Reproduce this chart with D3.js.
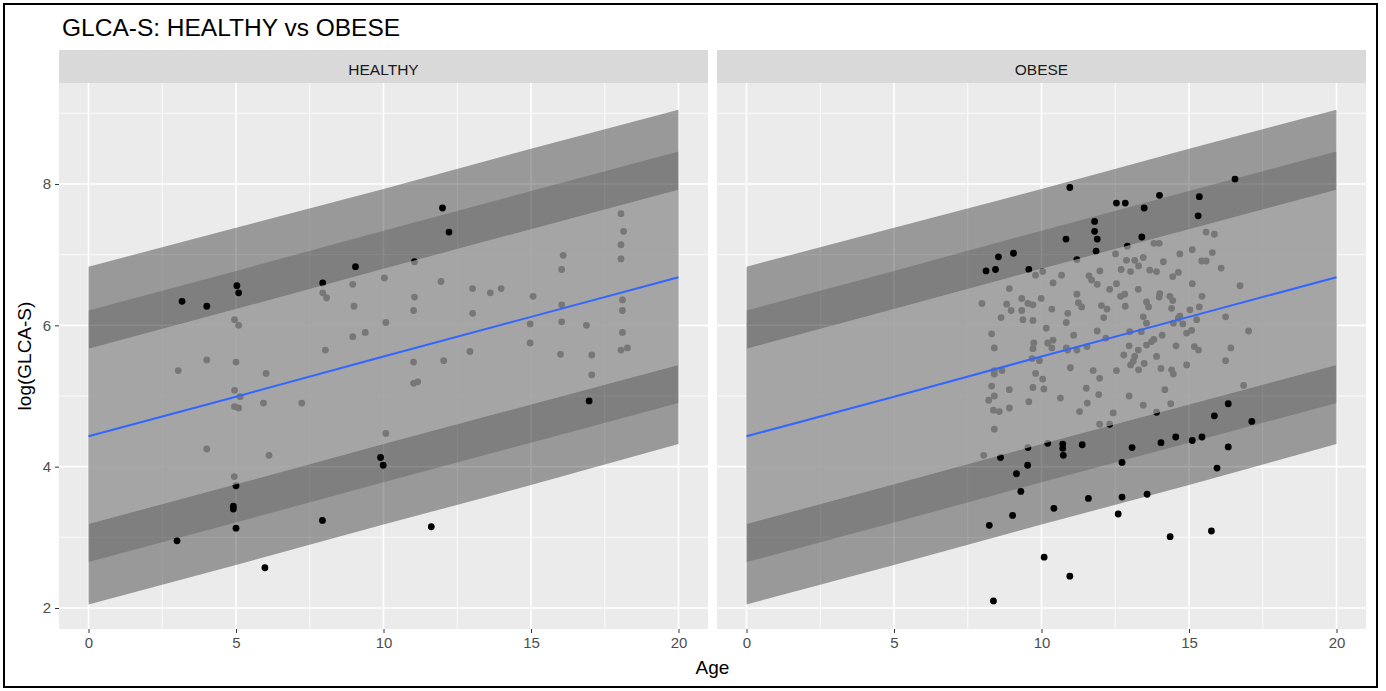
<!DOCTYPE html>
<html>
<head>
<meta charset="utf-8">
<script src="https://cdn.jsdelivr.net/npm/d3@7"></script>
<style>
  html, body { margin: 0; padding: 0; background: #ffffff; }
  svg { display: block; font-family: "Liberation Sans", Arial, sans-serif; }
</style>
</head>
<body>
<svg id="chart" width="1386" height="691"></svg>
<script>
// ---- data ----------------------------------------------------------------
const panelNames = ["HEALTHY", "OBESE"];
const xTicks = [0, 5, 10, 15, 20];
const xMinor = [2.5, 7.5, 12.5, 17.5];
const yTicks = [2, 4, 6, 8];
const yMinor = [3, 5, 7, 9];

// fitted line and quantile bands, evaluated along age
const bandAge  = [0, 5, 10, 15, 20];
const bandFit  = [4.43, 4.99, 5.56, 6.12, 6.68];
const outerLo  = [2.05, 2.61, 3.18, 3.74, 4.32];
const outerHi  = [6.83, 7.38, 7.93, 8.50, 9.05];
const lowBandLo = [2.65, 3.21, 3.78, 4.34, 4.90];
const lowBandHi = [3.19, 3.75, 4.32, 4.88, 5.44];
const upBandLo  = [5.67, 6.23, 6.80, 7.36, 7.92];
const upBandHi  = [6.21, 6.77, 7.34, 7.90, 8.46];

const healthyAge = [
  3.17, 4.01, 5.03, 5.09, 7.94, 9.05, 11.05, 12.00, 12.22, 16.97,
  5.00, 4.91, 4.91, 5.00, 3.00, 5.98, 7.93, 9.90, 9.99, 11.62,
  4.95, 5.09, 4.01, 3.04, 5.00, 6.02, 4.95, 5.14, 4.95, 5.09,
  5.93, 7.23, 7.94, 8.07, 8.03, 8.96, 9.00, 8.96, 9.38, 10.03,
  10.08, 11.05, 11.02, 11.02, 11.02, 11.16, 11.95, 12.04, 10.08, 4.01,
  6.12, 4.94, 13.02, 13.62, 13.99, 13.02, 12.93, 15.07, 14.97, 14.97,
  16.09, 16.04, 16.04, 16.04, 16.00, 16.88, 17.06, 17.06, 18.05, 18.14,
  18.05, 18.05, 18.10, 18.10, 18.10, 18.05, 18.27
];
const healthyLog = [
  6.34, 6.27, 6.56, 6.46, 6.60, 6.83, 6.90, 7.66, 7.32, 4.93,
  3.73, 3.44, 3.40, 3.13, 2.95, 2.57, 3.24, 4.13, 4.02, 3.15,
  6.08, 6.00, 5.51, 5.36, 5.48, 5.32, 5.08, 4.99, 4.85, 4.83,
  4.90, 4.90, 6.46, 6.39, 5.65, 6.58, 6.27, 5.84, 5.90, 6.67,
  6.04, 6.40, 6.21, 5.48, 5.18, 5.20, 6.62, 5.50, 4.47, 4.25,
  4.16, 3.86, 6.52, 6.46, 6.52, 6.17, 5.63, 6.41, 6.02, 5.75,
  6.99, 6.79, 6.29, 6.05, 5.59, 6.00, 5.58, 5.30, 7.58, 7.33,
  7.14, 6.94, 6.36, 6.21, 5.90, 5.65, 5.68
];

const obeseAge = [
  8.12, 8.44, 8.54, 9.05, 9.57, 10.96, 12.54, 12.84, 14.00, 13.48,
  15.35, 15.31, 16.56, 11.80, 11.80, 11.89, 10.83, 11.85, 11.20, 13.40,
  12.91,
  9.54, 10.21, 16.33, 15.86, 17.13, 14.55, 15.11, 15.44, 16.33, 14.05,
  13.07, 11.38, 10.72, 10.72, 10.74,
  8.23, 9.02, 9.30, 9.15, 9.53, 8.61, 11.59, 10.42, 10.09, 10.96,
  8.37, 12.60, 12.73, 12.73, 13.58, 14.36, 15.76, 15.95, 8.04,
  9.80, 10.04, 8.91, 7.98, 8.82, 8.97, 9.33, 9.54, 9.71, 9.99,
  9.33, 8.63, 9.37, 9.71, 10.16, 8.31, 8.40, 9.74, 9.71, 9.68,
  9.93, 10.21, 8.40, 8.66, 8.40, 9.80, 10.04, 8.31, 9.71, 10.08,
  8.91, 8.40, 8.21, 9.57, 8.37, 8.57, 8.91, 8.40,
  10.68, 10.39, 12.51, 12.88, 13.16, 13.45, 13.81, 13.99, 14.69, 15.11,
  15.58, 15.86, 15.43, 15.58, 15.79, 16.09, 16.73, 11.98, 11.61, 11.70,
  11.89, 12.70, 13.02, 13.29, 13.67, 13.90, 14.13, 14.45, 14.64, 15.11,
  12.54, 12.31, 10.35, 11.20, 11.25, 11.36, 10.89, 10.84, 12.03, 12.22,
  12.11, 12.68, 12.82, 12.84, 13.28, 13.56, 13.63, 14.01, 13.99, 14.35,
  14.45, 14.41, 14.69, 15.03, 15.35, 15.44, 16.24, 17.02, 13.45, 13.56,
  12.99, 13.38, 14.47, 14.64, 14.79, 15.09, 14.92, 15.26, 13.73, 13.81,
  13.56, 14.09, 14.56, 15.18, 15.32, 16.42, 16.24, 14.92, 14.41, 14.47,
  14.05, 13.90, 13.16, 13.28, 13.11, 13.02, 12.79, 13.48, 13.29, 12.54,
  12.97, 12.18, 11.89, 11.09, 10.35, 10.39, 10.84, 10.89, 11.20, 11.54,
  11.75, 11.97, 10.98, 11.52, 11.94, 10.64, 11.29, 11.55, 11.97, 12.31,
  12.43, 12.97, 13.45, 13.90, 14.18, 14.38, 16.85
];
const obeseLog = [
  6.77, 6.79, 6.97, 7.02, 6.79, 7.95, 7.73, 7.73, 7.84, 7.66,
  7.82, 7.55, 8.07, 7.47, 7.33, 7.22, 7.22, 7.05, 6.93, 7.25,
  7.12,
  4.27, 4.33, 4.89, 4.72, 4.64, 4.42, 4.37, 4.42, 4.28, 4.34,
  4.27, 4.31, 4.32, 4.26, 4.16,
  3.17, 3.31, 3.65, 3.90, 4.02, 4.13, 3.55, 3.41, 2.72, 2.45,
  2.10, 3.33, 3.57, 4.06, 3.61, 3.01, 3.09, 3.98, 4.16,
  6.71, 6.76, 6.52, 6.31, 6.30, 6.21, 6.38, 6.31, 6.29, 6.38,
  6.21, 6.11, 6.08, 6.07, 5.96, 5.88, 5.68, 5.75, 5.67, 5.53,
  5.50, 5.75, 5.36, 5.36, 5.31, 5.32, 5.24, 5.14, 5.12, 5.10,
  5.09, 5.00, 4.94, 4.92, 4.80, 4.78, 4.83, 4.53,
  6.71, 6.60, 7.01, 6.92, 6.92, 6.96, 7.16, 7.16, 7.01, 7.07,
  7.32, 7.29, 6.91, 6.91, 7.03, 6.81, 6.56, 6.77, 6.70, 6.64,
  6.58, 6.79, 6.76, 6.84, 6.78, 6.76, 6.90, 6.69, 6.75, 6.59,
  6.59, 6.51, 6.23, 6.44, 6.32, 6.26, 6.17, 6.04, 6.28, 6.23,
  6.11, 6.41, 6.44, 6.27, 6.51, 6.33, 6.26, 6.45, 6.40, 6.41,
  6.35, 6.24, 6.13, 6.22, 6.26, 6.41, 6.12, 5.92, 6.12, 6.03,
  5.91, 5.91, 6.03, 6.10, 6.02, 5.93, 5.89, 6.08, 5.77, 5.80,
  5.72, 5.86, 5.71, 5.70, 5.65, 5.68, 5.50, 5.44, 5.37, 5.31,
  5.39, 5.56, 5.56, 5.65, 5.49, 5.44, 5.58, 5.46, 5.37, 5.36,
  5.71, 5.82, 5.92, 5.86, 5.68, 5.79, 5.68, 5.65, 5.65, 5.70,
  5.36, 5.25, 5.40, 5.11, 5.02, 4.97, 4.78, 4.90, 4.60, 4.60,
  4.76, 5.00, 4.87, 4.77, 5.09, 4.89, 5.15
];

// ---- layout --------------------------------------------------------------
const svg = d3.select("#chart");
const panelTop = 83, panelBottom = 629, stripTop = 50;
const panelX = [[59, 708], [717, 1366]];
const pointSets = [
  { age: healthyAge, val: healthyLog },
  { age: obeseAge, val: obeseLog }
];

const y = d3.scaleLinear().domain([1.703, 9.429]).range([panelBottom, panelTop]);

svg.append("rect").attr("x", 0).attr("y", 0).attr("width", 1386).attr("height", 691).attr("fill", "#fff");

svg.append("text")
  .attr("x", 62).attr("y", 36)
  .attr("font-size", 24.5).attr("fill", "#000")
  .text("GLCA-S: HEALTHY vs OBESE");

const bandRows = bandAge.map((a, i) => ({
  age: a, fit: bandFit[i], oLo: outerLo[i], oHi: outerHi[i],
  lLo: lowBandLo[i], lHi: lowBandHi[i], uLo: upBandLo[i], uHi: upBandHi[i]
}));

panelNames.forEach((name, p) => {
  const [x0, x1] = panelX[p];
  const x = d3.scaleLinear().domain([-1, 21]).range([x0, x1]);
  const g = svg.append("g");

  // strip
  g.append("rect").attr("x", x0).attr("y", stripTop).attr("width", x1 - x0)
    .attr("height", panelTop - stripTop).attr("fill", "#d9d9d9");
  g.append("text").attr("x", (x0 + x1) / 2).attr("y", 75)
    .attr("text-anchor", "middle").attr("font-size", 15.5).attr("fill", "#1a1a1a")
    .text(name);

  // panel background and grid
  g.append("rect").attr("x", x0).attr("y", panelTop).attr("width", x1 - x0)
    .attr("height", panelBottom - panelTop).attr("fill", "#ebebeb");
  g.selectAll(".vminor").data(xMinor).join("line")
    .attr("x1", d => x(d)).attr("x2", d => x(d)).attr("y1", panelTop).attr("y2", panelBottom)
    .attr("stroke", "#fff").attr("stroke-width", 0.8);
  g.selectAll(".hminor").data(yMinor).join("line")
    .attr("y1", d => y(d)).attr("y2", d => y(d)).attr("x1", x0).attr("x2", x1)
    .attr("stroke", "#fff").attr("stroke-width", 0.8);
  g.selectAll(".vmajor").data(xTicks).join("line")
    .attr("x1", d => x(d)).attr("x2", d => x(d)).attr("y1", panelTop).attr("y2", panelBottom)
    .attr("stroke", "#fff").attr("stroke-width", 1.6);
  g.selectAll(".hmajor").data(yTicks).join("line")
    .attr("y1", d => y(d)).attr("y2", d => y(d)).attr("x1", x0).attr("x2", x1)
    .attr("stroke", "#fff").attr("stroke-width", 1.6);

  const ribbon = (lo, hi) => d3.area().x(d => x(d.age)).y0(d => y(d[lo])).y1(d => y(d[hi]));

  // outer band and the two darker quantile bands
  g.append("path").attr("d", ribbon("oLo", "oHi")(bandRows))
    .attr("fill", "#000").attr("fill-opacity", 0.35);
  g.append("path").attr("d", ribbon("lLo", "lHi")(bandRows))
    .attr("fill", "#000").attr("fill-opacity", 0.17);
  g.append("path").attr("d", ribbon("uLo", "uHi")(bandRows))
    .attr("fill", "#000").attr("fill-opacity", 0.17);

  // observations
  const ps = pointSets[p];
  g.selectAll(".pt").data(ps.age.map((a, i) => [a, ps.val[i]])).join("circle")
    .attr("cx", d => x(d[0])).attr("cy", d => y(d[1])).attr("r", 3.4)
    .attr("fill", "#000");

  // central band drawn over the points
  g.append("path").attr("d", ribbon("lHi", "uLo")(bandRows))
    .attr("fill", "#aaaaaa").attr("fill-opacity", 0.7);

  // fitted line
  g.append("path").datum(bandRows)
    .attr("d", d3.line().x(d => x(d.age)).y(d => y(d.fit)))
    .attr("fill", "none").attr("stroke", "#3366ff").attr("stroke-width", 2);

  // x axis
  const xa = g.append("g").attr("transform", `translate(0,${panelBottom})`)
    .call(d3.axisBottom(x).tickValues(xTicks).tickSize(4).tickPadding(4).tickFormat(d3.format("d")));
  xa.select(".domain").remove();
  xa.selectAll("line").attr("stroke", "#333");
  xa.selectAll("text").attr("font-size", 15).attr("fill", "#4d4d4d")
    .attr("font-family", "Liberation Sans, Arial, sans-serif");

  if (p === 0) {
    const ya = g.append("g").attr("transform", `translate(${x0},0)`)
      .call(d3.axisLeft(y).tickValues(yTicks).tickSize(4).tickPadding(4).tickFormat(d3.format("d")));
    ya.select(".domain").remove();
    ya.selectAll("line").attr("stroke", "#333");
    ya.selectAll("text").attr("font-size", 15).attr("fill", "#4d4d4d")
      .attr("font-family", "Liberation Sans, Arial, sans-serif");
  }
});

// axis titles
svg.append("text").attr("x", 712.5).attr("y", 674).attr("text-anchor", "middle")
  .attr("font-size", 19).attr("fill", "#000").text("Age");
svg.append("text").attr("transform", "translate(31,356) rotate(-90)")
  .attr("text-anchor", "middle").attr("font-size", 19).attr("fill", "#000").text("log(GLCA-S)");

// outer frame
svg.append("rect").attr("x", 4).attr("y", 4).attr("width", 1373).attr("height", 683)
  .attr("fill", "none").attr("stroke", "#000").attr("stroke-width", 2);
</script>
</body>
</html>
